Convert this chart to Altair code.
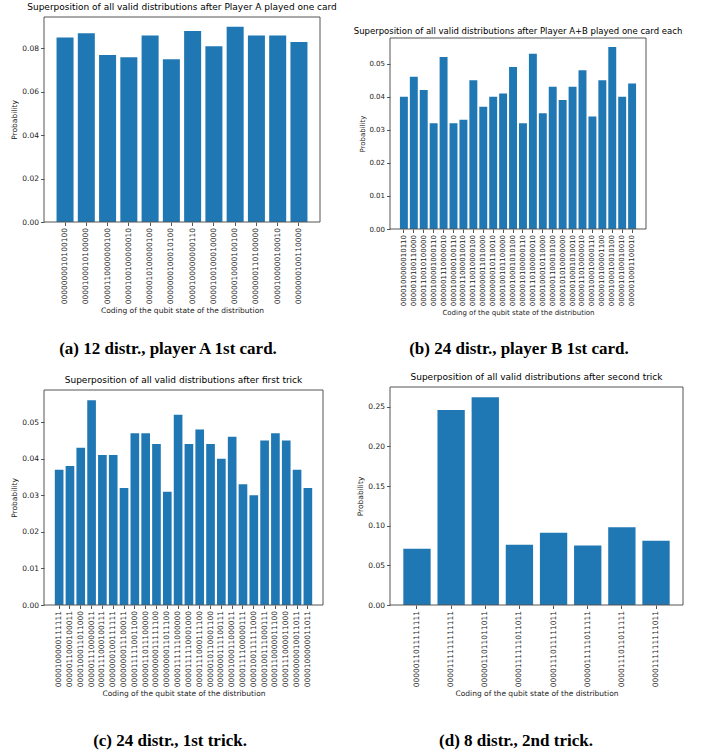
import altair as alt
import pandas as pd

BLUE = "#1f77b4"
FRAME = "#555555"

# ---------------- data ----------------
A_LABELS = [
    "0000000010100100", "0000100010100000", "0000110000000100", "0000100100000010",
    "0000010100000100", "0000000100010100", "0000100000000110", "0000100100010000",
    "0000010000100100", "0000000110100000", "0000100000100010", "0000000100110000",
]
A_VALUES = [0.085, 0.087, 0.077, 0.076, 0.086, 0.075, 0.088, 0.081, 0.090, 0.086, 0.086, 0.083]

B_LABELS = [
    "0000100000010110", "0000010100110000", "0000110010100000", "0000100001000110",
    "0000001110000010", "0000100000100110", "0000011000010010", "0000110010000100",
    "0000000011010000", "0000000010110010", "0000100101100000", "0000010001010100",
    "0000010100000110", "0000110100000010", "0000100010110000", "0000001100010100",
    "0000101010000000", "0000010001010010", "0000011010000010", "0000100010000110",
    "0000010100001100", "0000100010010100", "0000010100010010", "0000010001100010",
]
B_VALUES = [0.040, 0.046, 0.042, 0.032, 0.052, 0.032, 0.033, 0.045, 0.037, 0.040, 0.041, 0.049,
            0.032, 0.053, 0.035, 0.043, 0.039, 0.043, 0.048, 0.034, 0.045, 0.055, 0.040, 0.044]

C_LABELS = [
    "0000100000111111", "0000011000100011", "0000100011011000", "0000011100000011",
    "0000111000100111", "0000000100111111", "0000000011100011", "0000111110011000",
    "0000011011100000", "0000000011111100", "0000000011011100", "0000111111000000",
    "0000111110001000", "0000111000111100", "0000010110001100", "0000000111100111",
    "0000100011000011", "0000111100000111", "0000100111111000", "0000100111000111",
    "0000110000011100", "0000111000011000", "0000000010011011", "0000100000011011",
]
C_VALUES = [0.037, 0.038, 0.043, 0.056, 0.041, 0.041, 0.032, 0.047, 0.047, 0.044, 0.031, 0.052,
            0.044, 0.048, 0.044, 0.040, 0.046, 0.033, 0.030, 0.045, 0.047, 0.045, 0.037, 0.032]

D_LABELS = [
    "0000011011111111", "0000111111111111", "0000011011011011", "0000111111011011",
    "0000111011111011", "0000011111011111", "0000111011011111", "0000111111111011",
]
D_VALUES = [0.071, 0.246, 0.262, 0.076, 0.091, 0.075, 0.098, 0.081]

TITLES = [
    "Superposition of all valid distributions after Player A played one card",
    "Superposition of all valid distributions after Player A+B played one card each",
    "Superposition of all valid distributions after first trick",
    "Superposition of all valid distributions after second trick",
]
CAPTIONS = [
    "(a) 12 distr., player A 1st card.",
    "(b) 24 distr., player B 1st card.",
    "(c) 24 distr., 1st trick.",
    "(d) 8 distr., 2nd trick.",
]
X_TITLE = "Coding of the qubit state of the distribution"
Y_TITLE = "Probability"

A_TICKS = [0.0, 0.02, 0.04, 0.06, 0.08]
B_TICKS = [0.0, 0.01, 0.02, 0.03, 0.04, 0.05]
C_TICKS = [0.0, 0.01, 0.02, 0.03, 0.04, 0.05]
D_TICKS = [0.0, 0.05, 0.10, 0.15, 0.20, 0.25]


def panel(labels, values, title, caption, ticks, width, height, ymax, pad_outer,
          title_size, label_size, title_offset, cap_x, cap_y, gap=0):
    # gap: empty space on top of the cell, so that the framed plot starts lower
    df = pd.DataFrame({"state": labels, "prob": values})
    yscale = alt.Scale(domain=[0, ymax], nice=False, zero=True)
    if gap:
        yscale = alt.Scale(domain=[0, ymax], nice=False, zero=True, range=[height, gap])
    bars = alt.Chart(df).mark_bar(color=BLUE).encode(
        x=alt.X(
            "state:N", sort=None,
            scale=alt.Scale(paddingInner=0.2, paddingOuter=pad_outer),
            axis=alt.Axis(title=X_TITLE, labelAngle=270, labelFontSize=label_size,
                          titleFontSize=label_size, labelPadding=2, titlePadding=3),
        ),
        y=alt.Y(
            "prob:Q", scale=yscale,
            axis=alt.Axis(title=Y_TITLE, values=ticks, format=".2f",
                          labelFontSize=label_size, titleFontSize=label_size,
                          labelPadding=2, titlePadding=3),
        ),
    )
    cap = alt.Chart(pd.DataFrame({"t": [caption]})).mark_text(
        font="Liberation Serif", fontWeight="bold", fontSize=17, color="black",
        align="center", baseline="middle",
    ).encode(text="t:N", x=alt.value(cap_x), y=alt.value(cap_y + gap))
    frame = alt.Chart(pd.DataFrame({"f": [0]})).mark_rect(
        fill="transparent", stroke=FRAME, strokeWidth=1
    ).encode(x=alt.value(0), x2=alt.value(width), y=alt.value(gap), y2=alt.value(height))
    return alt.layer(bars, frame, cap).properties(
        width=width, height=height,
        title=alt.TitleParams(title, fontSize=title_size, font="DejaVu Sans",
                              fontWeight="normal", color="black", anchor="middle",
                              offset=title_offset - gap),
    )


pa = panel(A_LABELS, A_VALUES, TITLES[0], CAPTIONS[0], A_TICKS, 276, 205, 0.0945, 0.59,
           9, 7.5, 5, 124, 332)
pb = panel(B_LABELS, B_VALUES, TITLES[1], CAPTIONS[1], B_TICKS, 256, 212, 0.05775, 1.0,
           8.5, 7, 3, 129, 311, gap=21)
pc = panel(C_LABELS, C_VALUES, TITLES[2], CAPTIONS[2], C_TICKS, 279, 218, 0.0588, 1.0,
           9, 7.5, 5, 126, 351, gap=3)
pd_ = panel(D_LABELS, D_VALUES, TITLES[3], CAPTIONS[3], D_TICKS, 293, 218, 0.275, 0.39,
            9, 7.5, 5, 126, 354)

chart = alt.concat(pa, pb, pc, pd_, columns=2, spacing={"row": 158, "column": 67},
                   bounds="flush", align="each").properties(
    padding={"left": 10, "top": 2, "right": 5, "bottom": 5}
).configure_view(
    stroke="transparent"
).configure_axis(
    labelFont="DejaVu Sans", titleFont="DejaVu Sans", labelColor="#222222",
    titleColor="#222222", titleFontWeight="normal", tickColor=FRAME,
    tickSize=3.5, domain=False, grid=False,
)

chart.save("out.html", embed_options={"renderer": "svg", "actions": False})
